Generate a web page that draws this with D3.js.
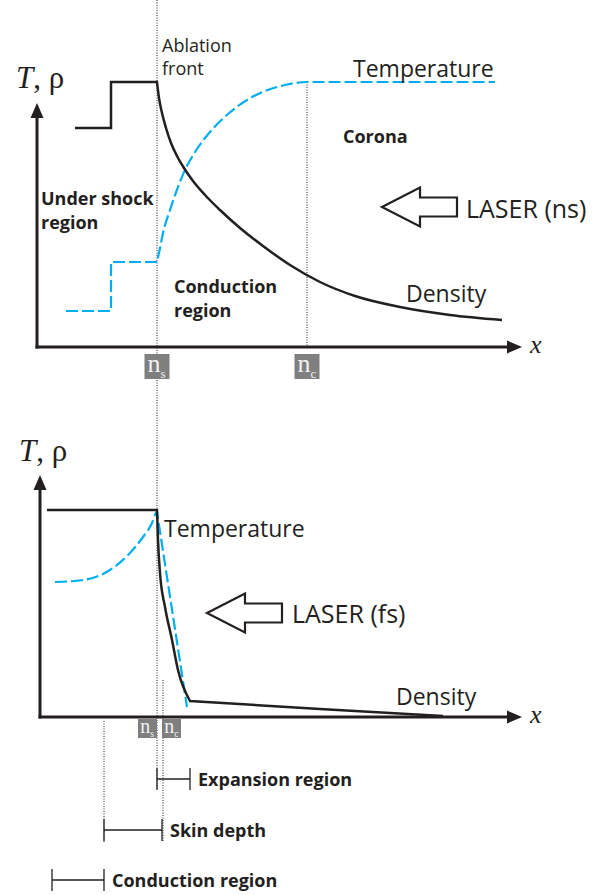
<!DOCTYPE html>
<html>
  <head>
    <meta charset="utf-8">
    <script src="https://d3js.org/d3.v7.min.js"></script>
    <style>
      body { margin: 0; background: #fff; }
      text { fill: #231f20; font-family: "Open Sans", sans-serif; }
      .bold { font-weight: bold; }
      .dotted { stroke: #231f20; stroke-width: 1; stroke-dasharray: 1,1.5; fill: none; }
      .axis { stroke: #231f20; stroke-width: 3; fill: none; }
      .dens { stroke: #231f20; stroke-width: 2.5; fill: none; }
      .temp { stroke: #00aeef; stroke-width: 2.2; stroke-dasharray: 12,4; fill: none; }
    </style>
  </head>
<body>
<script type="text/javascript">
  // values, x = distance along the axis, y = height above it
  var topDensityStep = [[38,219],[74,219],[74,265],[120,265]];
  var topDensityCurve = [[120,265],[122,249],[125,234],[129,219],[134,204],[140,191],[147,179],[156,166],
                         [168,152],[183,137],[203,119],[226,101],[253,82],[283,65],[318,51],[363,40],[413,32],[465,27]];
  var topTempStep = [[29,36],[74,36],[74,85],[120,85]];
  var topTempCurve = [[120,85],[123,99],[126,114],[133,137],[141,160],[148,177],[158,195],[173,215],
                      [191,233],[210,247],[228,256],[248,262],[270,265],[458,265]];

  var botDensityFlat = [[7,207],[117,207]];
  var botDensityCurve = [[117,207],[118,177],[120,144],[125,110],[132,77],[138,47],[150,16]];
  var botDensityTail = [[150,16],[280,8],[403,1]];
  var botTempCurve = [[15,135],[43,137],[70,147],[90,164],[103,180],[112,194],[116,204],[117,205]];
  var botTempDrop = [[117,205],[147,10]];

  var topMarks = [{sub: "s", x: 120}, {sub: "c", x: 270}];
  var botMarks = [{sub: "s", x: 117}, {sub: "c", x: 123}];
  var botSpans = [
    {label: "Expansion region", from: 117, to: 150},
    {label: "Skin depth", from: 64, to: 122},
    {label: "Conduction region", from: 12, to: 64}
  ];

  var width = 595, height = 895;
  var svg = d3.select("body").append("svg")
      .attr("width", width)
      .attr("height", height);

  var xTop = d3.scaleLinear().domain([0, 483]).range([37, 520]);
  var yTop = d3.scaleLinear().domain([0, 265]).range([347, 82]);
  var xBot = d3.scaleLinear().domain([0, 480]).range([40, 520]);
  var yBot = d3.scaleLinear().domain([0, 242]).range([717, 475]);

  function joined(x, y, parts) {
    // parts: [points, curve] ; glue into one path so dashes run on
    var d = "";
    parts.forEach(function(p, i) {
      var s = d3.line().x(function(v){ return x(v[0]); }).y(function(v){ return y(v[1]); }).curve(p[1])(p[0]);
      d += (i === 0) ? s : s.replace(/^M/, "L");
    });
    return d;
  }

  function arrowHead(tx, ty, dir) {
    // filled triangle, dir "up" or "right"
    var l = 15, w = 6.5;
    var pts = dir === "up"
      ? [[tx, ty], [tx - w, ty + l], [tx + w, ty + l]]
      : [[tx, ty], [tx - l, ty - w], [tx - l, ty + w]];
    svg.append("path").attr("d", "M" + pts.join("L") + "Z").attr("fill", "#231f20");
  }

  function axes(x, y, yTip, xTip, labelY) {
    svg.append("line").attr("class", "axis")
      .attr("x1", x(0)).attr("y1", y(0) + 1.5).attr("x2", x(0)).attr("y2", y(yTip) + 10);
    svg.append("line").attr("class", "axis")
      .attr("x1", x(0) - 1.5).attr("y1", y(0)).attr("x2", x(xTip) - 10).attr("y2", y(0));
    arrowHead(x(0), y(yTip), "up");
    arrowHead(x(xTip), y(0), "right");
    svg.append("text").attr("x", x(xTip) + 8).attr("y", y(0) + 6)
      .style("font-family", "'Liberation Serif', serif").style("font-style", "italic")
      .style("font-size", "26px").text("x");
    var t = svg.append("text").attr("x", x(0) - 21).attr("y", labelY)
      .style("font-family", "'Liberation Serif', serif").style("font-size", "31px");
    t.append("tspan").style("font-style", "italic").text("T");
    t.append("tspan").text(", \u03c1");
  }

  function hollowArrow(tx, ty) {
    var pts = [[tx, ty], [tx + 38, ty - 19.5], [tx + 38, ty - 9.5], [tx + 75, ty - 9.5],
               [tx + 75, ty + 9.5], [tx + 38, ty + 9.5], [tx + 38, ty + 19.5]];
    svg.append("path").attr("d", "M" + pts.join("L") + "Z")
      .attr("fill", "#fff").attr("stroke", "#231f20").attr("stroke-width", 2.2);
  }

  function markBox(cx, top, w, h, sub, fs) {
    svg.append("rect").attr("x", cx).attr("y", top).attr("width", w).attr("height", h).attr("fill", "#7f7f7f");
    var t = svg.append("text").attr("x", cx + w * 0.12).attr("y", top + h * 0.72)
      .style("font-family", "'Liberation Serif', serif").style("font-size", fs + "px");
    t.append("tspan").style("fill", "#f2f2f2").text("n");
    t.append("tspan").attr("dy", fs * 0.22).style("fill", "#f2f2f2").style("font-size", (fs * 0.5) + "px").text(sub);
  }

  /* long ablation-front line through both panels */
  svg.append("line").attr("class", "dotted")
    .attr("x1", xTop(120)).attr("y1", 0).attr("x2", xTop(120)).attr("y2", 790);

  /* ---------- top panel (ns laser) ---------- */
  svg.append("line").attr("class", "dotted")
    .attr("x1", xTop(270)).attr("y1", yTop(265)).attr("x2", xTop(270)).attr("y2", yTop(0));

  svg.append("path").attr("class", "temp")
    .attr("d", joined(xTop, yTop, [[topTempStep, d3.curveLinear], [topTempCurve, d3.curveMonotoneX]]));
  svg.append("path").attr("class", "dens")
    .attr("d", joined(xTop, yTop, [[topDensityStep, d3.curveLinear], [topDensityCurve, d3.curveMonotoneX]]));

  axes(xTop, yTop, 244, 485, 88);

  topMarks.forEach(function(m) {
    markBox(xTop(m.x) - 12.5, yTop(0) + 7, 25, 25, m.sub, 26);
  });

  svg.append("text").attr("x", 162).attr("y", 52).style("font-size", "18px").text("Ablation");
  svg.append("text").attr("x", 162).attr("y", 75).style("font-size", "18px").text("front");
  svg.append("text").attr("x", 353).attr("y", 77).style("font-size", "23px").text("Temperature");
  svg.append("text").attr("class", "bold").attr("x", 343).attr("y", 143).style("font-size", "18px").text("Corona");
  svg.append("text").attr("class", "bold").attr("x", 41).attr("y", 205).style("font-size", "18px").text("Under shock");
  svg.append("text").attr("class", "bold").attr("x", 41).attr("y", 229).style("font-size", "18px").text("region");
  svg.append("text").attr("class", "bold").attr("x", 174).attr("y", 293).style("font-size", "18px").text("Conduction");
  svg.append("text").attr("class", "bold").attr("x", 174).attr("y", 317).style("font-size", "18px").text("region");
  svg.append("text").attr("x", 406).attr("y", 302).style("font-size", "23px").text("Density");
  hollowArrow(382, 207);
  svg.append("text").attr("x", 466).attr("y", 218).style("font-size", "25px").text("LASER (ns)");

  /* ---------- bottom panel (fs laser) ---------- */
  svg.append("line").attr("class", "dotted")
    .attr("x1", xBot(123)).attr("y1", 680).attr("x2", xBot(123)).attr("y2", 842);
  svg.append("line").attr("class", "dotted")
    .attr("x1", xBot(64)).attr("y1", 721).attr("x2", xBot(64)).attr("y2", 842);

  svg.append("path").attr("class", "temp")
    .attr("d", joined(xBot, yBot, [[botTempCurve, d3.curveMonotoneX], [botTempDrop, d3.curveLinear]]));
  svg.append("path").attr("class", "dens")
    .attr("d", joined(xBot, yBot, [[botDensityFlat, d3.curveLinear], [botDensityCurve, d3.curveMonotoneX], [botDensityTail, d3.curveLinear]]));

  axes(xBot, yBot, 242, 482, 461);

  botMarks.forEach(function(m) {
    var bx = m.sub === "s" ? xBot(m.x) - 19 : xBot(m.x) - 1;
    markBox(bx, yBot(0) + 2, 19, 19, m.sub, 20);
  });

  svg.append("text").attr("x", 164).attr("y", 537).style("font-size", "23px").text("Temperature");
  svg.append("text").attr("x", 396).attr("y", 705).style("font-size", "23px").text("Density");
  hollowArrow(207, 613);
  svg.append("text").attr("x", 292).attr("y", 623).style("font-size", "25px").text("LASER (fs)");

  var spanY = [779, 830, 880];
  botSpans.forEach(function(s, i) {
    var y = spanY[i], x1 = xBot(s.from), x2 = xBot(s.to);
    var g = svg.append("g").attr("stroke", "#231f20").attr("stroke-width", 1.3);
    g.append("line").attr("x1", x1).attr("y1", y).attr("x2", x2).attr("y2", y);
    g.append("line").attr("x1", x1).attr("y1", y - 11).attr("x2", x1).attr("y2", y + 11);
    g.append("line").attr("x1", x2).attr("y1", y - 11).attr("x2", x2).attr("y2", y + 11);
    svg.append("text").attr("class", "bold").attr("x", x2 + 8).attr("y", y + 7)
      .style("font-size", "18px").text(s.label);
  });
</script>
</body>
</html>
